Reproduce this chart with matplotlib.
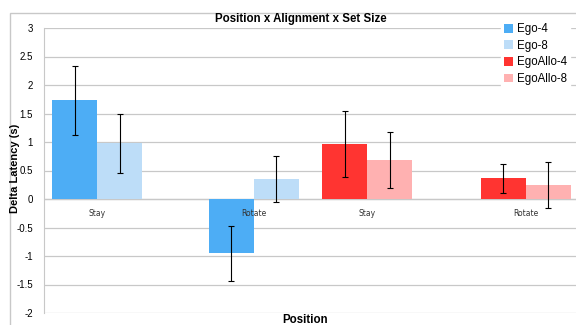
import numpy as np
import matplotlib.pyplot as plt
from matplotlib.patches import Rectangle

# data
positions = ["Stay", "Rotate", "Stay", "Rotate"]
series = ["Ego-4", "Ego-8", "EgoAllo-4", "EgoAllo-8"]
ego4 = [1.73, -0.95]
ego4_err = [0.60, 0.48]
ego8 = [0.98, 0.35]
ego8_err = [0.52, 0.41]
egoallo4 = [0.97, 0.36]
egoallo4_err = [0.58, 0.25]
egoallo8 = [0.69, 0.25]
egoallo8_err = [0.49, 0.40]
yticks = [3, 2.5, 2, 1.5, 1, 0.5, 0, -0.5, -1, -1.5, -2]

colors = ["#4DADF5", "#BDDDF8", "#FF3431", "#FFB1B1"]
group_x = np.array([0.40, 1.57, 2.42, 3.61])
width = 0.337

fig = plt.figure(figsize=(5.76, 3.25), dpi=100)
fig.patches.append(Rectangle((10 / 576, -0.1), 1.2, 1 - 13 / 325 + 0.1,
                             transform=fig.transFigure, fill=False,
                             edgecolor="#C8C8C8", lw=1.0, zorder=0))
ax = fig.add_axes([44 / 576, 1 - 313 / 325, (578 - 44) / 576, (313 - 28) / 325])

# Ego bars sit in the first two groups, EgoAllo bars in the last two
bars = [
    (group_x[:2] - width / 2, ego4, ego4_err),
    (group_x[:2] + width / 2, ego8, ego8_err),
    (group_x[2:] - width / 2, egoallo4, egoallo4_err),
    (group_x[2:] + width / 2, egoallo8, egoallo8_err),
]
for (x, vals, errs), c, name in zip(bars, colors, series):
    ax.bar(x, vals, width=width, color=c, label=name, zorder=2)
    ax.errorbar(x, vals, yerr=errs, fmt="none", ecolor="black",
                elinewidth=0.8, capsize=2, capthick=0.8, zorder=3)

ax.set_xlim(0, 4)
ax.set_ylim(-2, 3)
ax.set_yticks(yticks)
ax.set_yticklabels([f"{t:g}" for t in yticks], fontsize=7,
                   family="Liberation Sans")
ax.tick_params(axis="y", length=0, pad=8)
ax.set_xticks([])
ax.grid(axis="y", color="#C8C8C8", lw=0.9, zorder=0)
for s in ["top", "right", "bottom"]:
    ax.spines[s].set_visible(False)
ax.spines["left"].set_color("#C8C8C8")
ax.axhline(0, color="#C8C8C8", lw=0.9, zorder=1)

for x, lab in zip(group_x, positions):
    ax.text(x, -0.25, lab, ha="center", va="center", fontsize=5.5,
            family="Liberation Sans Narrow", color="#333333")

fig.text(301 / 576, 1 - 19 / 325, "Position x Alignment x Set Size",
         ha="center", va="center", fontsize=8.3, fontweight="bold",
         family="Liberation Sans")
fig.text(15 / 576, 1 - 168 / 325, "Delta Latency (s)", rotation=90,
         ha="center", va="center", fontsize=8, fontweight="bold",
         family="Liberation Sans")
fig.text(305 / 576, 1 - 320 / 325, "Position", ha="center", va="center",
         fontsize=8.3, fontweight="bold", family="Liberation Sans")

leg = fig.legend(loc="upper left", bbox_to_anchor=(495 / 576, 1 - 14 / 325),
                 frameon=True, handlelength=0.8, handleheight=0.8,
                 handletextpad=0.3, labelspacing=0.4, borderpad=0.3,
                 prop={"family": "Liberation Sans", "size": 8.3})
leg.get_frame().set_edgecolor("white")
leg.get_frame().set_facecolor("white")
leg.get_frame().set_alpha(1)

fig.savefig("out.png", dpi=100)
